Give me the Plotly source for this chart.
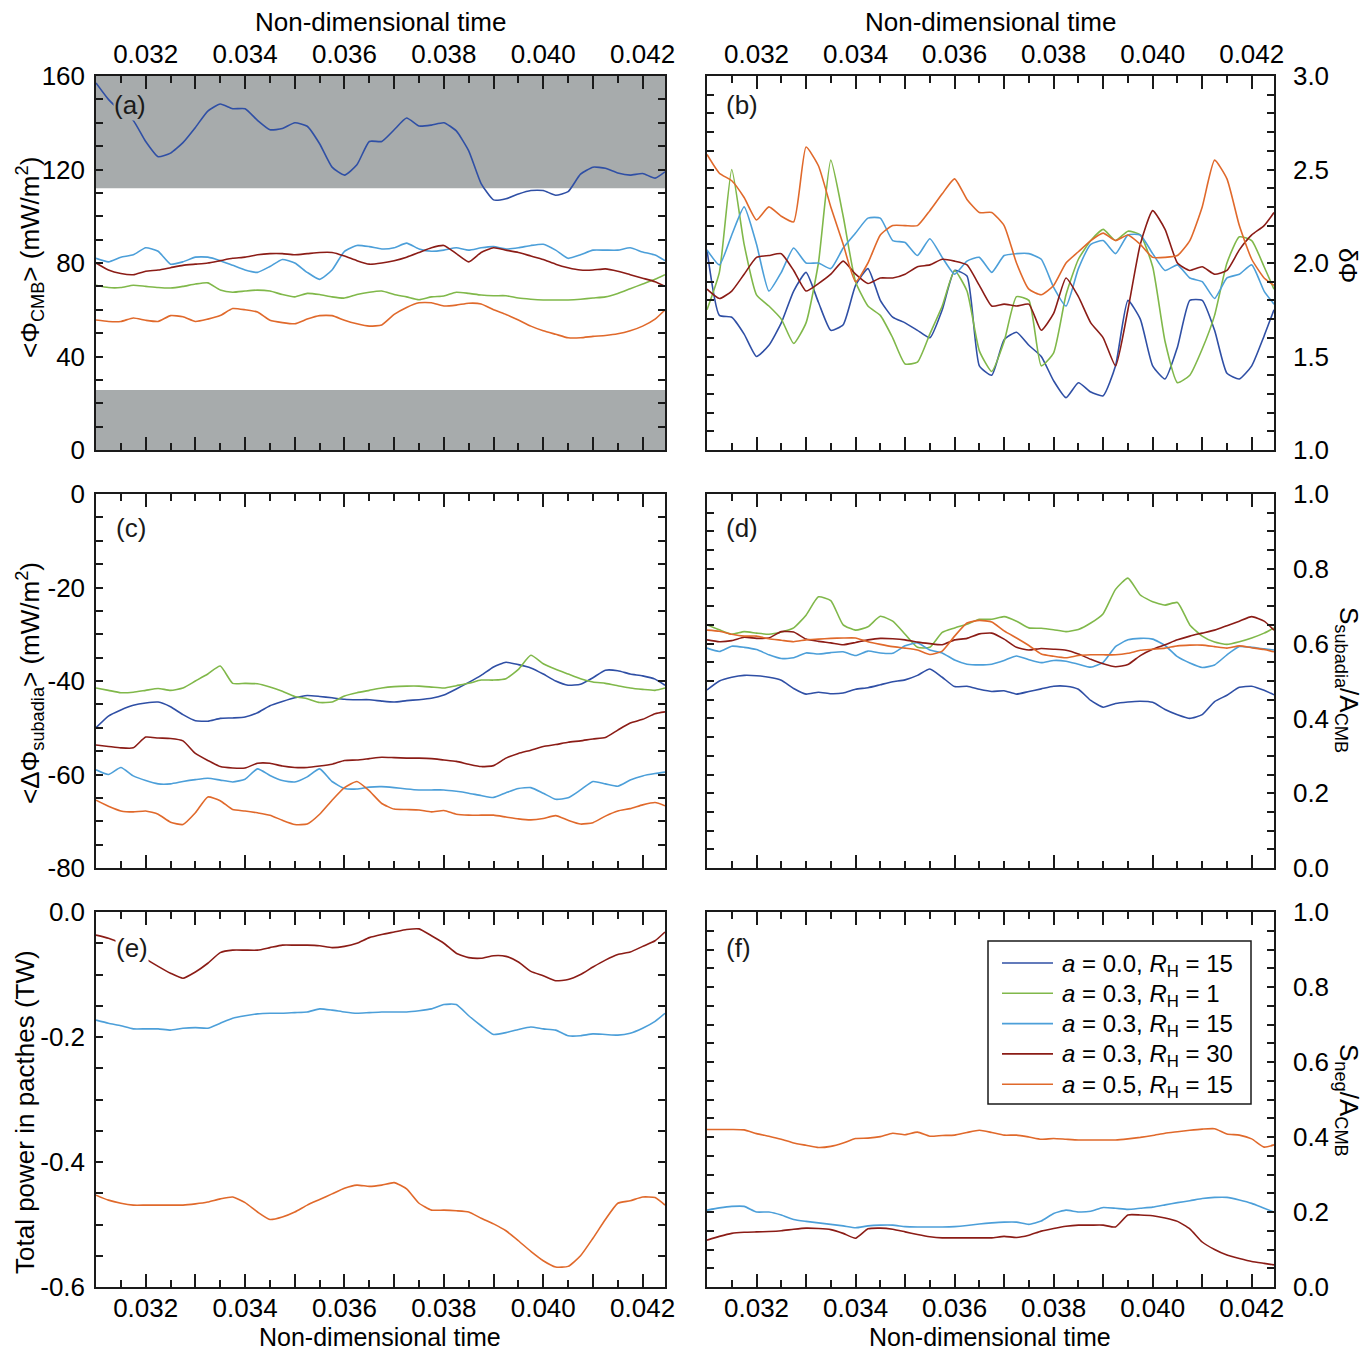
import plotly.graph_objects as go

# ---------------- data ----------------
t = [0.03100, 0.03125, 0.03150, 0.03175, 0.03200, 0.03225, 0.03250, 0.03275, 0.03300, 0.03325,
     0.03350, 0.03375, 0.03400, 0.03425, 0.03450, 0.03475, 0.03500, 0.03525, 0.03550, 0.03575,
     0.03600, 0.03625, 0.03650, 0.03675, 0.03700, 0.03725, 0.03750, 0.03775, 0.03800, 0.03825,
     0.03850, 0.03875, 0.03900, 0.03925, 0.03950, 0.03975, 0.04000, 0.04025, 0.04050, 0.04075,
     0.04100, 0.04125, 0.04150, 0.04175, 0.04200, 0.04225, 0.04245]

series_names = ["<i>a</i> = 0.0, <i>R</i><sub>H</sub> = 15",
                "<i>a</i> = 0.3, <i>R</i><sub>H</sub> = 1",
                "<i>a</i> = 0.3, <i>R</i><sub>H</sub> = 15",
                "<i>a</i> = 0.3, <i>R</i><sub>H</sub> = 30",
                "<i>a</i> = 0.5, <i>R</i><sub>H</sub> = 15"]
series_colors = ["#2f4fa5", "#80b84a", "#4c9fd9", "#8b1c16", "#e0692b"]

# (a) <Phi_CMB>
a_b00 = [157,150,145,141,132,125.5,127,131.5,138,145,148,146,146,141,137,137.5,140,138.5,131,121,
         117.6,122,132,132,137,142,138.6,139,140,136.5,128,114,107,107.5,109.5,111,111,109,110.5,118,
         121,120.5,118.5,117.6,118.3,116.3,119]
a_g31 = [70.5,69.5,69.5,70.5,70,69.5,69.3,70,71,71.5,68.5,67.5,68,68.4,68,66.5,65.5,67,66.5,65.5,
         65,66.5,67.5,68,66.5,65.5,64.3,65.5,65.9,67.5,67,66.3,66,66,65,64.5,64.2,64.2,64.2,64.5,
         65,65.5,67,69,71,73,75]
a_lb315 = [82,80.5,82.5,83.5,86.5,85,79.5,80.5,82.5,82.5,81,79,77,76,78.5,81.5,80,76,73,77,
           85,87.5,87,86,86.5,88.5,86,85,85.5,86.5,85.5,86.5,87,86,86.5,87.5,88,85.5,82,83.5,
           85.5,85.5,85.5,86.5,84.7,83.4,81]
a_dr330 = [80,77,75.5,75,76.5,77,78,79,79.5,80,81,82,82.5,83.5,84,84,83.5,84,84.5,84.5,
           83,81,79.5,80,81,82.5,84.5,86.5,87.5,84,80.5,84.5,86.5,85.5,84.5,83,81.5,79.5,78,77,
           77,77.5,76.5,75,73.5,72,70]
a_o515 = [55.6,55,55,56.5,55.5,55,57.5,57,55,56,57.5,60.5,60,59,55.5,54.5,54,56,57.5,57.5,
          55.5,54,53,53.5,58,61,63,63,61.6,62,62.8,62.5,60,58,55.6,53,51,49.5,48,48,
          48.6,49,49.7,51,53,56,59.9]
a_band_low = [0, 25.7]
a_band_high = [112, 160]

# (b) delta Phi
b_b00 = [2.07,1.72,1.71,1.62,1.5,1.56,1.68,1.85,1.95,1.79,1.64,1.67,1.88,1.97,1.8,1.71,1.68,1.64,1.6,1.75,
         1.96,1.93,1.45,1.4,1.59,1.63,1.56,1.5,1.37,1.28,1.36,1.31,1.29,1.45,1.8,1.7,1.45,1.38,1.55,1.8,
         1.8,1.64,1.41,1.38,1.45,1.61,1.75]
b_g31 = [1.75,1.95,2.5,2.1,1.83,1.77,1.7,1.57,1.68,2.0,2.55,2.25,1.9,1.77,1.72,1.6,1.46,1.47,1.62,1.77,
         1.96,1.85,1.53,1.42,1.58,1.82,1.8,1.45,1.52,1.83,2.02,2.12,2.18,2.12,2.17,2.15,1.98,1.58,1.36,1.4,
         1.54,1.72,2.0,2.14,2.12,1.98,1.86]
b_lb315 = [2.07,1.99,2.15,2.3,2.1,1.85,1.95,2.08,2.0,2.0,1.97,2.08,2.16,2.24,2.24,2.12,2.11,2.04,2.13,2.03,
           1.94,2.01,2.03,1.95,2.04,2.05,2.05,2.02,1.87,1.77,1.97,2.1,2.12,2.05,2.15,2.15,2.05,1.96,1.99,1.92,
           1.9,1.81,1.92,1.94,1.99,1.85,1.78]
b_dr330 = [1.86,1.81,1.85,1.94,2.03,2.04,2.05,1.96,1.85,1.89,1.94,2.01,1.94,1.89,1.92,1.92,1.94,1.98,1.99,2.02,
           2.01,1.99,1.88,1.77,1.78,1.77,1.78,1.64,1.73,1.92,1.82,1.68,1.6,1.45,1.75,2.1,2.28,2.18,2.0,1.96,
           1.98,1.94,1.96,2.07,2.15,2.2,2.27]
b_o515 = [2.58,2.48,2.44,2.35,2.23,2.3,2.25,2.22,2.62,2.52,2.3,2.1,1.9,2.0,2.15,2.2,2.2,2.2,2.28,2.37,
          2.45,2.34,2.27,2.27,2.2,2.0,1.86,1.83,1.88,2.0,2.06,2.12,2.16,2.12,2.15,2.1,2.03,2.03,2.04,2.12,
          2.3,2.55,2.45,2.2,2.02,1.92,1.88]

# (c) <Delta Phi_subadia>
c_b00 = [-50,-47.5,-46.2,-45.2,-44.7,-44.5,-45.5,-47.2,-48.5,-48.6,-48,-47.9,-47.7,-46.8,-45.3,-44.4,-43.6,-43.1,-43.3,-43.6,
         -43.9,-44,-44,-44.3,-44.5,-44.2,-44,-43.7,-43,-41.7,-40.3,-38.8,-37,-36,-36.5,-37.2,-38.5,-40,-40.9,-40.7,
         -39.3,-37.7,-37.8,-38.5,-38.9,-39.6,-40.9]
c_g31 = [-41.5,-42,-42.5,-42.4,-42,-41.6,-42,-41.5,-40,-38.5,-36.8,-40.5,-40.5,-40.6,-41.3,-42.2,-43.3,-43.8,-44.6,-44.5,
         -43.2,-42.5,-42,-41.5,-41.2,-41.1,-41.1,-41.3,-41.5,-41,-40.5,-39.8,-39.8,-39.5,-37.5,-34.5,-36.3,-37.5,-38.5,-39.5,
         -40.2,-40.5,-41,-41.5,-41.8,-42,-41.5]
c_lb315 = [-59,-60,-58.5,-60.3,-61.3,-62,-62,-61.5,-61.1,-60.8,-61.2,-61.6,-61,-58.8,-60.2,-61.3,-61.6,-60.5,-58.8,-61.5,
           -63,-63.1,-62.7,-62.6,-62.8,-63.1,-63.3,-63.3,-63.3,-63.6,-64,-64.5,-64.9,-63.9,-63,-62.8,-64,-65.3,-65,-63.3,
           -61.5,-62,-62.5,-61.2,-60.3,-59.8,-59.5]
c_dr330 = [-53.7,-54,-54.3,-54.3,-52,-52.2,-52.3,-52.8,-55.5,-57,-58.3,-58.6,-58.6,-57.6,-57.6,-58.2,-58.5,-58.5,-58.2,-57.8,
           -57,-56.9,-56.6,-56.3,-56.4,-56.5,-56.5,-56.6,-56.9,-57.2,-57.8,-58.3,-58.1,-56.5,-55.5,-54.8,-54,-53.6,-53.1,-52.8,
           -52.4,-52.1,-50.5,-49,-48.2,-47,-46.6]
c_o515 = [-65.5,-66.8,-67.8,-68,-67.8,-68.5,-70.2,-70.7,-68.2,-64.8,-65.6,-67.5,-67.8,-68.2,-68.7,-69.8,-70.7,-70.6,-68.5,-65.5,
          -62.8,-61.5,-63.5,-66.2,-67.4,-67.5,-67.6,-68,-67.7,-68.5,-68.7,-68.7,-68.7,-69.1,-69.5,-69.7,-69.4,-68.8,-69.8,-70.6,
          -70.3,-68.9,-67.8,-67.3,-66.5,-66,-66.7]

# (d) S_subadia / A_CMB
d_b00 = [0.476,0.5,0.51,0.515,0.514,0.51,0.502,0.48,0.465,0.47,0.466,0.468,0.478,0.482,0.49,0.498,0.503,0.515,0.532,0.51,
         0.485,0.486,0.478,0.472,0.474,0.465,0.472,0.479,0.486,0.486,0.478,0.448,0.43,0.44,0.444,0.446,0.443,0.424,0.41,0.4,
         0.41,0.445,0.462,0.483,0.486,0.475,0.463]
d_g31 = [0.65,0.637,0.625,0.632,0.628,0.625,0.631,0.642,0.676,0.725,0.715,0.65,0.636,0.645,0.673,0.66,0.625,0.59,0.59,0.63,
         0.642,0.652,0.665,0.665,0.672,0.66,0.642,0.641,0.637,0.632,0.638,0.655,0.68,0.745,0.775,0.73,0.712,0.703,0.71,0.65,
         0.62,0.604,0.598,0.605,0.615,0.628,0.642]
d_lb315 = [0.588,0.579,0.593,0.59,0.584,0.57,0.56,0.562,0.575,0.572,0.576,0.578,0.568,0.58,0.575,0.574,0.594,0.602,0.583,0.575,
           0.556,0.545,0.543,0.545,0.555,0.567,0.557,0.549,0.555,0.553,0.545,0.537,0.55,0.592,0.61,0.614,0.612,0.595,0.565,0.548,
           0.536,0.543,0.57,0.592,0.59,0.586,0.583]
d_dr330 = [0.61,0.605,0.608,0.617,0.614,0.615,0.632,0.631,0.612,0.606,0.602,0.597,0.603,0.61,0.614,0.613,0.61,0.604,0.6,0.597,
           0.61,0.614,0.626,0.628,0.612,0.59,0.583,0.587,0.585,0.582,0.572,0.558,0.546,0.538,0.544,0.568,0.585,0.597,0.61,0.62,
           0.628,0.636,0.648,0.66,0.672,0.66,0.636]
d_o515 = [0.636,0.633,0.625,0.62,0.62,0.613,0.609,0.605,0.61,0.612,0.614,0.615,0.615,0.605,0.598,0.592,0.588,0.583,0.571,0.58,
          0.62,0.655,0.662,0.658,0.634,0.615,0.595,0.572,0.566,0.562,0.568,0.57,0.57,0.57,0.574,0.582,0.585,0.588,0.594,0.596,
          0.596,0.592,0.588,0.594,0.589,0.584,0.578]

# (e) total power in patches (TW)
e_lb315 = [-0.173,-0.178,-0.182,-0.187,-0.187,-0.187,-0.189,-0.186,-0.185,-0.186,-0.178,-0.17,-0.166,-0.163,-0.162,-0.162,-0.161,-0.16,-0.155,-0.157,
           -0.16,-0.162,-0.161,-0.16,-0.16,-0.16,-0.158,-0.155,-0.148,-0.148,-0.166,-0.182,-0.196,-0.193,-0.188,-0.184,-0.187,-0.189,-0.198,-0.198,
           -0.195,-0.196,-0.197,-0.194,-0.186,-0.175,-0.162]
e_dr330 = [-0.037,-0.042,-0.05,-0.062,-0.075,-0.087,-0.098,-0.106,-0.096,-0.082,-0.065,-0.061,-0.061,-0.061,-0.057,-0.053,-0.053,-0.053,-0.054,-0.057,
           -0.055,-0.05,-0.041,-0.036,-0.032,-0.028,-0.027,-0.038,-0.05,-0.066,-0.073,-0.074,-0.07,-0.071,-0.08,-0.095,-0.102,-0.11,-0.108,-0.1,
           -0.088,-0.077,-0.068,-0.064,-0.055,-0.046,-0.032]
e_o515 = [-0.453,-0.461,-0.466,-0.469,-0.469,-0.469,-0.469,-0.469,-0.467,-0.464,-0.459,-0.456,-0.465,-0.48,-0.492,-0.488,-0.48,-0.469,-0.46,-0.451,
          -0.442,-0.437,-0.439,-0.437,-0.433,-0.443,-0.466,-0.477,-0.477,-0.478,-0.48,-0.49,-0.499,-0.51,-0.526,-0.543,-0.558,-0.568,-0.567,-0.55,
          -0.522,-0.492,-0.466,-0.462,-0.456,-0.457,-0.469]

# (f) S_neg / A_CMB
f_lb315 = [0.205,0.211,0.215,0.215,0.2,0.2,0.192,0.18,0.175,0.171,0.167,0.163,0.158,0.163,0.165,0.165,0.161,0.16,0.16,0.16,
           0.161,0.164,0.168,0.171,0.173,0.173,0.167,0.176,0.196,0.205,0.2,0.202,0.212,0.21,0.207,0.21,0.213,0.219,0.225,0.23,
           0.236,0.239,0.239,0.232,0.223,0.21,0.2]
f_dr330 = [0.125,0.135,0.143,0.146,0.147,0.148,0.15,0.154,0.157,0.156,0.153,0.143,0.13,0.155,0.157,0.154,0.147,0.14,0.134,0.131,
           0.131,0.131,0.131,0.131,0.135,0.132,0.138,0.149,0.156,0.162,0.165,0.165,0.165,0.16,0.192,0.192,0.19,0.184,0.175,0.155,
           0.12,0.1,0.085,0.076,0.068,0.063,0.059]
f_o515 = [0.42,0.42,0.42,0.419,0.409,0.402,0.394,0.384,0.378,0.372,0.375,0.384,0.396,0.397,0.401,0.41,0.406,0.413,0.402,0.404,
          0.405,0.412,0.418,0.412,0.405,0.405,0.4,0.394,0.396,0.394,0.392,0.392,0.392,0.392,0.395,0.399,0.404,0.41,0.414,0.418,
          0.421,0.422,0.408,0.405,0.395,0.373,0.379]

x_tickvals = [0.032, 0.033, 0.034, 0.035, 0.036, 0.037, 0.038, 0.039, 0.040, 0.041, 0.042]
x_ticktext = ["0.032", "", "0.034", "", "0.036", "", "0.038", "", "0.040", "", "0.042"]
x_range = [0.031, 0.04245]

ya_vals, ya_text = [0, 40, 80, 120, 160], ["0", "40", "80", "120", "160"]
yb_vals, yb_text = [1.0, 1.5, 2.0, 2.5, 3.0], ["1.0", "1.5", "2.0", "2.5", "3.0"]
yc_vals, yc_text = [-80, -60, -40, -20, 0], ["-80", "-60", "-40", "-20", "0"]
yd_vals, yd_text = [0.0, 0.2, 0.4, 0.6, 0.8, 1.0], ["0.0", "0.2", "0.4", "0.6", "0.8", "1.0"]
ye_vals, ye_text = [-0.6, -0.4, -0.2, 0.0], ["-0.6", "-0.4", "-0.2", "0.0"]
yf_vals, yf_text = [0.0, 0.2, 0.4, 0.6, 0.8, 1.0], ["0.0", "0.2", "0.4", "0.6", "0.8", "1.0"]

# ---------------- figure ----------------
W, H = 1363, 1351
FONT = "Liberation Sans, Arial, Helvetica, sans-serif"
FS = 26
INK = "#1a1a1a"

def px_x(p):
    return p / W

def px_y(p):
    return 1 - p / H

XL = [px_x(96), px_x(665)]
XR = [px_x(707), px_x(1274)]
Y1 = [px_y(450), px_y(76)]
Y2 = [px_y(868), px_y(494)]
Y3 = [px_y(1287), px_y(912)]

fig = go.Figure()

panels = [
    ("x", "y", [a_b00, a_g31, a_lb315, a_dr330, a_o515]),
    ("x2", "y2", [b_b00, b_g31, b_lb315, b_dr330, b_o515]),
    ("x3", "y3", [c_b00, c_g31, c_lb315, c_dr330, c_o515]),
    ("x4", "y4", [d_b00, d_g31, d_lb315, d_dr330, d_o515]),
    ("x5", "y5", [None, None, e_lb315, e_dr330, e_o515]),
    ("x6", "y6", [None, None, f_lb315, f_dr330, f_o515]),
]
for pi, (xa, ya, data) in enumerate(panels):
    for si, vals in enumerate(data):
        if vals is None:
            continue
        assert len(vals) == len(t)
        fig.add_trace(go.Scatter(
            x=t, y=vals, xaxis=xa, yaxis=ya, mode="lines",
            line=dict(color=series_colors[si], width=1.6, shape="spline", smoothing=0.5),
            name=series_names[si], showlegend=False, hoverinfo="skip"))

def xaxis(domain, anchor, side, labels, fs):
    return dict(domain=domain, anchor=anchor, range=x_range, side=side,
                showline=True, linecolor=INK, linewidth=1.5, mirror="allticks",
                ticks="inside", ticklen=13, tickwidth=1.5, tickcolor=INK,
                tickmode="array", tickvals=x_tickvals, ticktext=x_ticktext,
                showticklabels=labels, ticklabelstandoff=-3 if side == "bottom" else 1,
                minor=dict(tickmode="linear", tick0=0.031, dtick=0.0005, ticks="inside",
                           ticklen=7, tickwidth=1.5, tickcolor=INK, showgrid=False),
                tickfont=dict(family=FONT, size=fs, color="black"),
                showgrid=False, zeroline=False, automargin=False, fixedrange=True)

def yaxis(domain, anchor, side, rng, vals, text, minor_dt, standoff):
    return dict(domain=domain, anchor=anchor, range=rng, side=side,
                showline=True, linecolor=INK, linewidth=1.5, mirror="allticks",
                ticks="inside", ticklen=7, tickwidth=1.5, tickcolor=INK,
                tickmode="array", tickvals=vals, ticktext=text,
                ticklabelstandoff=standoff,
                minor=dict(tickmode="linear", tick0=rng[0], dtick=minor_dt, ticks="inside",
                           ticklen=7, tickwidth=1.5, tickcolor=INK, showgrid=False),
                tickfont=dict(family=FONT, size=FS, color="black"),
                showgrid=False, zeroline=False, automargin=False, fixedrange=True)

fig.update_layout(
    width=W, height=H, autosize=False,
    margin=dict(l=0, r=0, t=0, b=0, pad=0),
    paper_bgcolor="white", plot_bgcolor="white",
    font=dict(family=FONT, size=FS, color="black"),
    xaxis=xaxis(XL, "y", "top", True, FS),
    xaxis2=xaxis(XR, "y2", "top", True, FS),
    xaxis3=xaxis(XL, "y3", "bottom", False, FS),
    xaxis4=xaxis(XR, "y4", "bottom", False, FS),
    xaxis5=xaxis(XL, "y5", "bottom", True, FS),
    xaxis6=xaxis(XR, "y6", "bottom", True, FS),
    yaxis=yaxis(Y1, "x", "left", [0, 160], ya_vals, ya_text, 10, 4),
    yaxis2=yaxis(Y1, "x2", "right", [1.0, 3.0], yb_vals, yb_text, 0.1, 12),
    yaxis3=yaxis(Y2, "x3", "left", [-80, 0], yc_vals, yc_text, 5, 4),
    yaxis4=yaxis(Y2, "x4", "right", [0, 1], yd_vals, yd_text, 0.05, 12),
    yaxis5=yaxis(Y3, "x5", "left", [-0.6, 0.0], ye_vals, ye_text, 0.05, 4),
    yaxis6=yaxis(Y3, "x6", "right", [0, 1], yf_vals, yf_text, 0.05, 12),
    showlegend=False,
)

# grey bands in panel (a)
for band in (a_band_low, a_band_high):
    fig.add_shape(type="rect", xref="x domain", yref="y", x0=0, x1=1,
                  y0=band[0], y1=band[1], fillcolor="#a7abac", line_width=0, layer="below")

# legend box (drawn in panel f)
fig.add_shape(type="rect", xref="paper", yref="paper",
              x0=px_x(988), x1=px_x(1251), y0=px_y(1104), y1=px_y(941),
              fillcolor="white", line=dict(color=INK, width=1.5), layer="above")
for si, (nm, col) in enumerate(zip(series_names, series_colors)):
    yy = 963 + 30.3 * si
    fig.add_shape(type="line", xref="paper", yref="paper",
                  x0=px_x(1002), x1=px_x(1053), y0=px_y(yy), y1=px_y(yy),
                  line=dict(color=col, width=1.6), layer="above")
    fig.add_annotation(text=nm, xref="paper", yref="paper", x=px_x(1060), y=px_y(yy + 2),
                       xanchor="left", yanchor="middle", showarrow=False,
                       font=dict(family=FONT, size=24, color="black"))

# panel labels
labels = [("(a)", 113, 105, "#a7abac"), ("(b)", 725, 105, "white"),
          ("(c)", 115, 528, "white"), ("(d)", 725, 528, "white"),
          ("(e)", 115, 948, "white"), ("(f)", 725, 948, "white")]
for txt, lx, ly, bg in labels:
    fig.add_annotation(text=txt, xref="paper", yref="paper", x=px_x(lx), y=px_y(ly),
                       xanchor="left", yanchor="middle", showarrow=False, bgcolor=bg,
                       borderpad=0, font=dict(family=FONT, size=FS, color=INK))

# axis titles
titles = [
    ("Non-dimensional time", 380, 22, 0, FS),
    ("Non-dimensional time", 990, 22, 0, FS),
    ("Non-dimensional time", 380, 1337, 0, 25),
    ("Non-dimensional time", 990, 1337, 0, 25),
    ("&lt;Φ<sub>CMB</sub>&gt; (mW/m<sup>2</sup>)", 30, 258, -90, FS),
    ("&lt;ΔΦ<sub>subadia</sub>&gt; (mW/m<sup>2</sup>)", 30, 683, -90, FS),
    ("Total power in pacthes (TW)", 25, 1112, -90, FS),
    ("δΦ", 1348, 265, 90, FS),
    ("S<sub>subadia</sub>/A<sub>CMB</sub>", 1348, 680, 90, FS),
    ("S<sub>neg</sub>/A<sub>CMB</sub>", 1348, 1100, 90, FS),
]
for txt, tx, ty, ang, fs in titles:
    fig.add_annotation(text=txt, xref="paper", yref="paper", x=px_x(tx), y=px_y(ty),
                       xanchor="center", yanchor="middle", showarrow=False, textangle=ang,
                       borderpad=0, font=dict(family=FONT, size=fs, color="black"))

fig.write_html("out.html")
